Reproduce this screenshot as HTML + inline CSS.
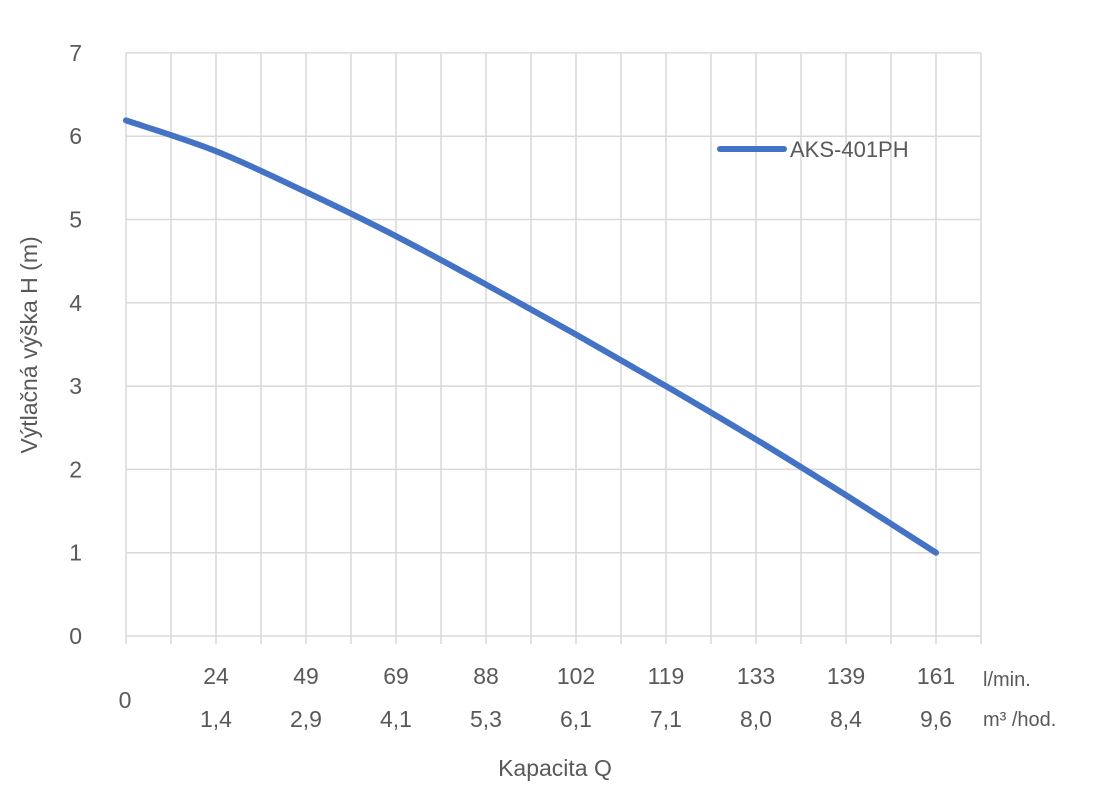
<!DOCTYPE html>
<html><head><meta charset="utf-8"><style>
body{margin:0;background:#fff;width:1100px;height:798px;overflow:hidden;font-family:"Liberation Sans",sans-serif}
svg text{fill:#595959;font-family:"Liberation Sans",sans-serif}
</style></head><body>
<svg id="chart" width="1100" height="798" xmlns="http://www.w3.org/2000/svg">
<g id="grid"></g>
<g id="yticks"></g>
<g id="xticks"></g>
<path id="line" fill="none" stroke="#4472C4" stroke-width="6" stroke-linecap="round"/>
<g>
<line x1="720" y1="149" x2="784" y2="149" stroke="#4472C4" stroke-width="6" stroke-linecap="round"/>
<text x="790" y="157" font-size="22">AKS-401PH</text>
</g>
<text transform="translate(37,345) rotate(-90)" text-anchor="middle" font-size="23">Výtlačná výška H (m)</text>
<text x="555" y="776" text-anchor="middle" font-size="23">Kapacita Q</text>
<text x="125" y="708" text-anchor="middle" font-size="23">0</text>
<text x="983" y="686" font-size="20">l/min.</text>
<text x="983" y="726" font-size="20">m³ /hod.</text>
</svg>
<script>
const lpmLabels=["24","49","69","88","102","119","133","139","161"];
const m3hLabels=["1,4","2,9","4,1","5,3","6,1","7,1","8,0","8,4","9,6"];
const yTicks=[0,1,2,3,4,5,6,7];
const pointIdx=[0,2,4,6,8,10,12,14,16,18];
const headValues=[6.19,5.82,5.33,4.8,4.22,3.62,3.0,2.36,1.69,1.0];
const X0=126,STEP=45,NCAT=19,Y0=636,YU=83.3;
const xs=i=>X0+i*STEP, ys=v=>Y0-v*YU;
const NS="http://www.w3.org/2000/svg";
const g=document.getElementById('grid'),yt=document.getElementById('yticks'),xt=document.getElementById('xticks');
for(let i=0;i<=NCAT;i++){const l=document.createElementNS(NS,'line');
l.setAttribute('x1',xs(i));l.setAttribute('x2',xs(i));l.setAttribute('y1',ys(7));l.setAttribute('y2',ys(0)+8);
l.setAttribute('stroke','#d9d9d9');l.setAttribute('stroke-width','1.5');

g.appendChild(l);}
yTicks.forEach(v=>{const l=document.createElementNS(NS,'line');
l.setAttribute('x1',X0);l.setAttribute('x2',xs(NCAT));l.setAttribute('y1',ys(v));l.setAttribute('y2',ys(v));
l.setAttribute('stroke','#d9d9d9');l.setAttribute('stroke-width','1.5');

g.appendChild(l);
const t=document.createElementNS(NS,'text');t.setAttribute('x',82);t.setAttribute('y',ys(v)+8);
t.setAttribute('text-anchor','end');t.setAttribute('font-size','23');t.textContent=v;

yt.appendChild(t);});
lpmLabels.forEach((s,k)=>{const x=xs(2+2*k);
const t=document.createElementNS(NS,'text');t.setAttribute('x',x);t.setAttribute('y',684);t.setAttribute('text-anchor','middle');t.setAttribute('font-size','23');t.textContent=s;

xt.appendChild(t);
const u=document.createElementNS(NS,'text');u.setAttribute('x',x);u.setAttribute('y',727);u.setAttribute('text-anchor','middle');u.setAttribute('font-size','23');u.textContent=m3hLabels[k];

xt.appendChild(u);});
const P=pointIdx.map((i,k)=>[xs(i),ys(headValues[k])]);
let d='M'+P[0][0]+','+P[0][1];
for(let i=0;i<P.length-1;i++){const p0=P[i-1]||P[i],p1=P[i],p2=P[i+1],p3=P[i+2]||p2;
d+=` C${p1[0]+(p2[0]-p0[0])/6},${p1[1]+(p2[1]-p0[1])/6} ${p2[0]-(p3[0]-p1[0])/6},${p2[1]-(p3[1]-p1[1])/6} ${p2[0]},${p2[1]}`;}
document.getElementById('line').setAttribute('d',d);
</script>
</body></html>
